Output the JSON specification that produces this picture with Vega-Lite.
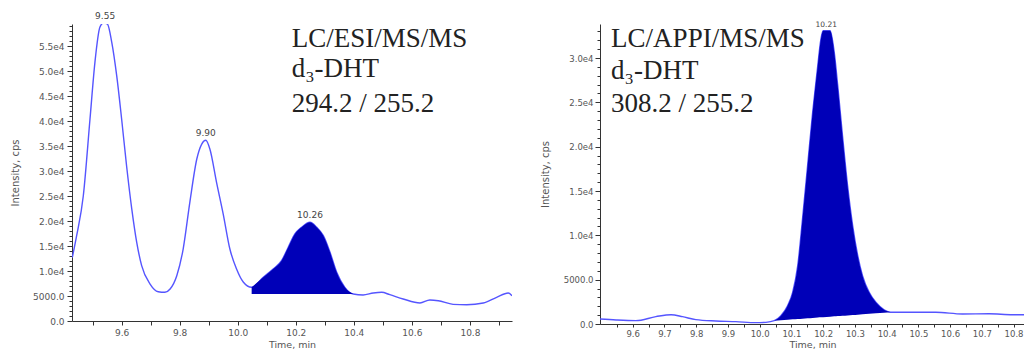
{
  "$schema": "https://vega.github.io/schema/vega-lite/v6.json",
  "padding": {"left": 10, "top": 12, "right": 0, "bottom": 0},
  "spacing": 28,
  "config": {
    "view": {"stroke": null},
    "axis": {"grid": false, "domainColor": "#333", "tickColor": "#333", "labelColor": "#555", "titleColor": "#555", "labelFont": "DejaVu Sans", "titleFont": "DejaVu Sans", "titleFontWeight": "normal", "labelOverlap": false, "labelFlush": false, "labelBound": false}
  },
  "datasets": {
    "esi": [
      {"t": 9.43, "v": 12700}, {"t": 9.445, "v": 17090}, {"t": 9.468, "v": 25100}, {"t": 9.491, "v": 40460}, {"t": 9.508, "v": 51820}, {"t": 9.525, "v": 58830}, {"t": 9.537, "v": 59690}, {"t": 9.551, "v": 59490}, {"t": 9.566, "v": 55820}, {"t": 9.583, "v": 49140}, {"t": 9.6, "v": 40460}, {"t": 9.617, "v": 31110}, {"t": 9.635, "v": 22430}, {"t": 9.652, "v": 15760}, {"t": 9.669, "v": 11080}, {"t": 9.698, "v": 7410}, {"t": 9.726, "v": 5870}, {"t": 9.749, "v": 5750}, {"t": 9.767, "v": 6410}, {"t": 9.79, "v": 9080}, {"t": 9.812, "v": 14420}, {"t": 9.835, "v": 23780}, {"t": 9.859, "v": 32450}, {"t": 9.876, "v": 35450}, {"t": 9.89, "v": 36200}, {"t": 9.904, "v": 34450}, {"t": 9.927, "v": 27780}, {"t": 9.95, "v": 21430}, {"t": 9.973, "v": 14420}, {"t": 9.996, "v": 10420}, {"t": 10.019, "v": 7810}, {"t": 10.048, "v": 6750}, {"t": 10.088, "v": 8750}, {"t": 10.122, "v": 10420}, {"t": 10.151, "v": 12080}, {"t": 10.174, "v": 14760}, {"t": 10.197, "v": 17430}, {"t": 10.22, "v": 18770}, {"t": 10.249, "v": 19770}, {"t": 10.272, "v": 18770}, {"t": 10.295, "v": 17090}, {"t": 10.318, "v": 13760}, {"t": 10.341, "v": 9750}, {"t": 10.369, "v": 6750}, {"t": 10.398, "v": 5410}, {"t": 10.432, "v": 5210}, {"t": 10.467, "v": 5610}, {"t": 10.496, "v": 5750}, {"t": 10.524, "v": 5270}, {"t": 10.57, "v": 4410}, {"t": 10.628, "v": 3610}, {"t": 10.662, "v": 4210}, {"t": 10.691, "v": 4070}, {"t": 10.742, "v": 3340}, {"t": 10.789, "v": 3270}, {"t": 10.846, "v": 3610}, {"t": 10.892, "v": 4750}, {"t": 10.932, "v": 5610}, {"t": 10.945, "v": 5070}
    ],
    "esiFill": [
      {"t": 10.048, "v": 6750, "base": 5410}, {"t": 10.088, "v": 8750, "base": 5410}, {"t": 10.122, "v": 10420, "base": 5410}, {"t": 10.151, "v": 12080, "base": 5410}, {"t": 10.174, "v": 14760, "base": 5410}, {"t": 10.197, "v": 17430, "base": 5410}, {"t": 10.22, "v": 18770, "base": 5410}, {"t": 10.249, "v": 19770, "base": 5410}, {"t": 10.272, "v": 18770, "base": 5410}, {"t": 10.295, "v": 17090, "base": 5410}, {"t": 10.318, "v": 13760, "base": 5410}, {"t": 10.341, "v": 9750, "base": 5410}, {"t": 10.369, "v": 6750, "base": 5410}, {"t": 10.398, "v": 5410, "base": 5410}
    ],
    "esiPeaks": [
      {"t": 9.543, "v": 59690, "label": "9.55"}, {"t": 9.89, "v": 36200, "label": "9.90"}, {"t": 10.249, "v": 19770, "label": "10.26"}
    ],
    "esiNote": [
      {"t": 10.186, "v": 54820, "label": "LC/ESI/MS/MS"}, {"t": 10.186, "v": 48810, "label": "d₃-DHT"}, {"t": 10.186, "v": 41860, "label": "294.2 / 255.2"}
    ],
    "appi": [
      {"t": 9.497, "v": 564}, {"t": 9.548, "v": 451}, {"t": 9.61, "v": 376}, {"t": 9.673, "v": 827}, {"t": 9.721, "v": 1050}, {"t": 9.757, "v": 827}, {"t": 9.799, "v": 488}, {"t": 9.862, "v": 338}, {"t": 9.925, "v": 263}, {"t": 9.988, "v": 150}, {"t": 10.02, "v": 188}, {"t": 10.046, "v": 376}, {"t": 10.067, "v": 940}, {"t": 10.088, "v": 2060}, {"t": 10.104, "v": 3570}, {"t": 10.12, "v": 6580}, {"t": 10.135, "v": 11840}, {"t": 10.151, "v": 17850}, {"t": 10.167, "v": 23880}, {"t": 10.183, "v": 29130}, {"t": 10.193, "v": 32140}, {"t": 10.2, "v": 33080}, {"t": 10.222, "v": 33080}, {"t": 10.235, "v": 30640}, {"t": 10.246, "v": 26880}, {"t": 10.261, "v": 21240}, {"t": 10.277, "v": 15600}, {"t": 10.293, "v": 11090}, {"t": 10.309, "v": 7700}, {"t": 10.324, "v": 5450}, {"t": 10.345, "v": 3570}, {"t": 10.366, "v": 2450}, {"t": 10.392, "v": 1610}, {"t": 10.413, "v": 1320}, {"t": 10.482, "v": 1320}, {"t": 10.555, "v": 1320}, {"t": 10.639, "v": 1130}, {"t": 10.723, "v": 1160}, {"t": 10.797, "v": 1050}, {"t": 10.836, "v": 1050}
    ],
    "appiFill": [
      {"t": 10.046, "v": 376, "base": 376}, {"t": 10.067, "v": 940, "base": 430}, {"t": 10.088, "v": 2060, "base": 484}, {"t": 10.104, "v": 3570, "base": 525}, {"t": 10.12, "v": 6580, "base": 566}, {"t": 10.135, "v": 11840, "base": 605}, {"t": 10.151, "v": 17850, "base": 646}, {"t": 10.167, "v": 23880, "base": 687}, {"t": 10.183, "v": 29130, "base": 728}, {"t": 10.193, "v": 32140, "base": 754}, {"t": 10.2, "v": 33080, "base": 772}, {"t": 10.222, "v": 33080, "base": 830}, {"t": 10.235, "v": 30640, "base": 862}, {"t": 10.246, "v": 26880, "base": 890}, {"t": 10.261, "v": 21240, "base": 929}, {"t": 10.277, "v": 15600, "base": 970}, {"t": 10.293, "v": 11090, "base": 1011}, {"t": 10.309, "v": 7700, "base": 1052}, {"t": 10.324, "v": 5450, "base": 1091}, {"t": 10.345, "v": 3570, "base": 1145}, {"t": 10.366, "v": 2450, "base": 1199}, {"t": 10.392, "v": 1610, "base": 1266}, {"t": 10.413, "v": 1320, "base": 1320}
    ],
    "appiPeaks": [
      {"t": 10.21, "v": 33080, "label": "10.21"}
    ],
    "appiNote": [
      {"t": 9.532, "v": 31206, "label": "LC/APPI/MS/MS"}, {"t": 9.532, "v": 27631, "label": "d₃-DHT"}, {"t": 9.532, "v": 23909, "label": "308.2 / 255.2"}
    ]
  },
  "hconcat": [
    {
      "width": 440,
      "height": 297,
      "resolve": {"axis": {"x": "independent", "y": "independent"}},
      "layer": [
        {
          "data": {"name": "esi"},
          "mark": {"type": "line", "color": "#5555ff", "strokeWidth": 1.4, "interpolate": "monotone", "clip": true},
          "encoding": {
            "x": {"field": "t", "type": "quantitative", "scale": {"domain": [9.429, 10.945], "nice": false, "zero": false},
              "axis": {"orient": "bottom", "values": [9.5, 9.6, 9.7, 9.8, 9.9, 10.0, 10.1, 10.2, 10.3, 10.4, 10.5, 10.6, 10.7, 10.8, 10.9], "labelExpr": "round(datum.value*10) % 2 == 0 ? format(datum.value, '.1f') : ''", "title": "Time, min", "titleFontSize": 9.5, "labelFontSize": 9, "tickSize": 4, "labelPadding": 3, "titlePadding": 2}},
            "y": {"field": "v", "type": "quantitative", "scale": {"domain": [0, 59500], "nice": false, "zero": false},
              "axis": {"orient": "left", "values": [0, 5000, 10000, 15000, 20000, 25000, 30000, 35000, 40000, 45000, 50000, 55000], "labelExpr": "datum.value == 0 ? '0.0' : datum.value < 10000 ? format(datum.value, '.1f') : replace(format(datum.value, '.1e'), 'e+', 'e')", "title": "Intensity, cps", "titleFontSize": 10, "labelFontSize": 9, "tickSize": 5, "labelPadding": 3, "minExtent": 38, "maxExtent": 38, "titlePadding": 14}}
          }
        },
        {
          "data": {"name": "esiFill"},
          "mark": {"type": "area", "color": "#0000b8", "interpolate": "monotone", "clip": true},
          "encoding": {
            "x": {"field": "t", "type": "quantitative", "scale": {"domain": [9.429, 10.945], "nice": false, "zero": false}, "axis": null},
            "y": {"field": "v", "type": "quantitative", "scale": {"domain": [0, 59500], "nice": false, "zero": false}, "axis": null},
            "y2": {"field": "base"}
          }
        },
        {
          "data": {"name": "esiPeaks"},
          "mark": {"type": "text", "font": "DejaVu Sans", "fontSize": 9, "color": "#444", "baseline": "bottom", "dy": -2},
          "encoding": {
            "x": {"field": "t", "type": "quantitative", "scale": {"domain": [9.429, 10.945], "nice": false, "zero": false}, "axis": null},
            "y": {"field": "v", "type": "quantitative", "scale": {"domain": [0, 59500], "nice": false, "zero": false},
              "axis": {"orient": "left", "values": [1000, 2000, 3000, 4000, 6000, 7000, 8000, 9000, 11000, 12000, 13000, 14000, 16000, 17000, 18000, 19000, 21000, 22000, 23000, 24000, 26000, 27000, 28000, 29000, 31000, 32000, 33000, 34000, 36000, 37000, 38000, 39000, 41000, 42000, 43000, 44000, 46000, 47000, 48000, 49000, 51000, 52000, 53000, 54000, 56000, 57000, 58000, 59000], "labels": false, "domain": false, "tickSize": 3, "title": null, "minExtent": 0, "maxExtent": 0}},
            "text": {"field": "label"}
          }
        },
        {
          "data": {"name": "esiNote"},
          "mark": {"type": "text", "font": "Liberation Serif, Times New Roman, serif", "fontSize": 27, "color": "#222", "align": "left", "baseline": "alphabetic"},
          "encoding": {
            "x": {"field": "t", "type": "quantitative", "scale": {"domain": [9.429, 10.945], "nice": false, "zero": false}, "axis": null},
            "y": {"field": "v", "type": "quantitative", "scale": {"domain": [0, 59500], "nice": false, "zero": false}, "axis": null},
            "text": {"field": "label"}
          }
        }
      ]
    },
    {
      "width": 425,
      "height": 300,
      "resolve": {"axis": {"x": "independent", "y": "independent"}},
      "layer": [
        {
          "data": {"name": "appi"},
          "mark": {"type": "line", "color": "#5555ff", "strokeWidth": 1.4, "interpolate": "monotone", "clip": true},
          "encoding": {
            "x": {"field": "t", "type": "quantitative", "scale": {"domain": [9.497, 10.836], "nice": false, "zero": false},
              "axis": {"orient": "bottom", "values": [9.55, 9.6, 9.65, 9.7, 9.75, 9.8, 9.85, 9.9, 9.95, 10.0, 10.05, 10.1, 10.15, 10.2, 10.25, 10.3, 10.35, 10.4, 10.45, 10.5, 10.55, 10.6, 10.65, 10.7, 10.75, 10.8], "labelExpr": "round(datum.value*100) % 10 == 0 ? format(datum.value, '.1f') : ''", "title": "Time, min", "titleFontSize": 9.5, "labelFontSize": 8.5, "tickSize": 3, "labelPadding": 2, "titlePadding": 2}},
            "y": {"field": "v", "type": "quantitative", "scale": {"domain": [0, 33835], "nice": false, "zero": false},
              "axis": {"orient": "left", "values": [0, 5000, 10000, 15000, 20000, 25000, 30000], "labelExpr": "datum.value == 0 ? '0.0' : datum.value < 10000 ? format(datum.value, '.1f') : replace(format(datum.value, '.1e'), 'e+', 'e')", "title": "Intensity, cps", "titleFontSize": 10, "labelFontSize": 8.5, "tickSize": 5, "labelPadding": 2, "minExtent": 37, "maxExtent": 37, "titlePadding": 13}}
          }
        },
        {
          "data": {"name": "appiFill"},
          "mark": {"type": "area", "color": "#0000b8", "interpolate": "monotone", "clip": true},
          "encoding": {
            "x": {"field": "t", "type": "quantitative", "scale": {"domain": [9.497, 10.836], "nice": false, "zero": false}, "axis": null},
            "y": {"field": "v", "type": "quantitative", "scale": {"domain": [0, 33835], "nice": false, "zero": false}, "axis": null},
            "y2": {"field": "base"}
          }
        },
        {
          "data": {"name": "appiPeaks"},
          "mark": {"type": "text", "font": "DejaVu Sans", "fontSize": 7.5, "color": "#444", "baseline": "bottom", "dy": -2},
          "encoding": {
            "x": {"field": "t", "type": "quantitative", "scale": {"domain": [9.497, 10.836], "nice": false, "zero": false}, "axis": null},
            "y": {"field": "v", "type": "quantitative", "scale": {"domain": [0, 33835], "nice": false, "zero": false},
              "axis": {"orient": "left", "values": [1000, 2000, 3000, 4000, 6000, 7000, 8000, 9000, 11000, 12000, 13000, 14000, 16000, 17000, 18000, 19000, 21000, 22000, 23000, 24000, 26000, 27000, 28000, 29000, 31000, 32000, 33000], "labels": false, "domain": false, "tickSize": 3, "title": null, "minExtent": 0, "maxExtent": 0}},
            "text": {"field": "label"}
          }
        },
        {
          "data": {"name": "appiNote"},
          "mark": {"type": "text", "font": "Liberation Serif, Times New Roman, serif", "fontSize": 27, "color": "#222", "align": "left", "baseline": "alphabetic"},
          "encoding": {
            "x": {"field": "t", "type": "quantitative", "scale": {"domain": [9.497, 10.836], "nice": false, "zero": false}, "axis": null},
            "y": {"field": "v", "type": "quantitative", "scale": {"domain": [0, 33835], "nice": false, "zero": false}, "axis": null},
            "text": {"field": "label"}
          }
        }
      ]
    }
  ]
}
